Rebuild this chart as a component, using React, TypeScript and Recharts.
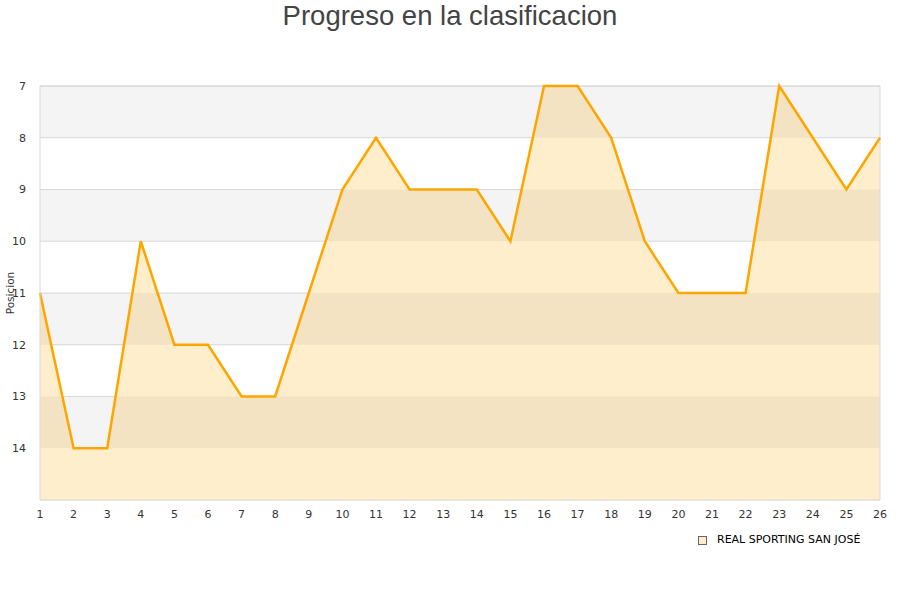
import React from "react";
import {
  ComposedChart,
  Area,
  Line,
  XAxis,
  YAxis,
  CartesianGrid,
  ReferenceArea,
  ReferenceLine,
} from "recharts";

const jornadas = [1, 2, 3, 4, 5, 6, 7, 8, 9, 10, 11, 12, 13, 14, 15, 16, 17, 18, 19, 20, 21, 22, 23, 24, 25, 26];
const posiciones = [11, 14, 14, 10, 12, 12, 13, 13, 11, 9, 8, 9, 9, 9, 10, 7, 7, 8, 10, 11, 11, 11, 7, 8, 9, 8];
const yTicks = [7, 8, 9, 10, 11, 12, 13, 14, 15];
const bandas = [
  [7, 8],
  [9, 10],
  [11, 12],
  [13, 14],
];
const equipo = "REAL SPORTING SAN JOSÉ";

const data = jornadas.map((j, i) => ({ jornada: j, pos: posiciones[i] }));

const tickStyle = { fontFamily: "DejaVu Sans", fontSize: 11, fill: "#333" };

export default function App() {
  return (
    <div style={{ position: "absolute", left: 0, top: 0, width: 900, height: 600, background: "#fff" }}>
      <div
        style={{
          position: "absolute",
          top: 0,
          left: 0,
          width: 900,
          textAlign: "center",
          fontFamily: "Liberation Sans",
          fontSize: 27.5,
          color: "#444",
          lineHeight: "32px",
        }}
      >
        Progreso en la clasificacion
      </div>
      <ComposedChart
        width={900}
        height={600}
        data={data}
        margin={{ top: 86, right: 20, bottom: 70, left: 10 }}
      >
        <CartesianGrid horizontal={true} vertical={false} stroke="#dddddd" strokeWidth={1} />
        <Area
          dataKey="pos"
          type="linear"
          stroke="none"
          fill="#ffeecc"
          fillOpacity={1}
          baseValue={15}
          isAnimationActive={false}
          legendType="none"
        />
        {bandas.map(([a, b]) => (
          <ReferenceArea key={a} y1={a} y2={b} fill="#000" fillOpacity={0.045} stroke="none" ifOverflow="hidden" />
        ))}
        <ReferenceLine y={7} stroke="#d9d9d9" />
        <ReferenceLine y={15} stroke="#d9d9d9" />
        <ReferenceLine x={26} stroke="#d9d9d9" />
        <XAxis
          dataKey="jornada"
          type="number"
          domain={[1, 26]}
          ticks={jornadas}
          interval={0}
          tick={tickStyle}
          tickLine={false}
          axisLine={false}
          height={30}
          tickMargin={4}
        />
        <YAxis
          type="number"
          domain={[7, 15]}
          reversed
          ticks={yTicks}
          interval={0}
          tickFormatter={(v) => (v === 15 ? "" : String(v))}
          tick={tickStyle}
          tickLine={false}
          axisLine={{ stroke: "#d9d9d9" }}
          width={30}
          tickMargin={8}
          label={{
            value: "Posicion",
            angle: -90,
            position: "insideLeft",
            offset: 0,
            style: { fontFamily: "DejaVu Sans", fontSize: 10.5, fill: "#333", textAnchor: "middle" },
          }}
        />
        <Line
          dataKey="pos"
          type="linear"
          stroke="#ffa500"
          strokeWidth={2.5}
          dot={false}
          activeDot={false}
          isAnimationActive={false}
          legendType="none"
        />
      </ComposedChart>
      <div
        style={{
          position: "absolute",
          left: 698,
          top: 533,
          display: "flex",
          alignItems: "center",
          fontFamily: "DejaVu Sans",
          fontSize: 11,
          color: "#000",
          lineHeight: "14px",
        }}
      >
        <span
          style={{
            display: "inline-block",
            width: 7,
            height: 7,
            background: "#ffeecc",
            border: "1px solid #666",
            marginRight: 10,
          }}
        />
        <span>{equipo}</span>
      </div>
    </div>
  );
}
